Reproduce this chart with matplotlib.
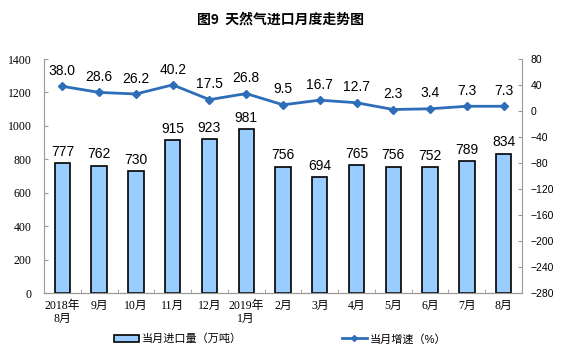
import matplotlib
matplotlib.use("Agg")
import matplotlib.pyplot as plt
from matplotlib.patches import Patch
from matplotlib.lines import Line2D

plt.rcParams['font.family'] = ['Liberation Sans', 'Noto Sans CJK SC']

# datos
meses = ["2018年\n8月", "9月", "10月", "11月", "12月", "2019年\n1月", "2月",
         "3月", "4月", "5月", "6月", "7月", "8月"]
importacion = [777, 762, 730, 915, 923, 981, 756, 694, 765, 756, 752, 789, 834]
crecimiento = [38.0, 28.6, 26.2, 40.2, 17.5, 26.8, 9.5, 16.7, 12.7, 2.3, 3.4, 7.3, 7.3]

azul_barra = '#99CCFF'
azul_linea = '#2E6DB8'
gris = '#999999'

fig = plt.figure(figsize=(5.61, 3.57), dpi=100)
ax = fig.add_axes([44/561, 1 - 293/357, (522-44)/561, (293-59)/357])
ax2 = ax.twinx()

x = list(range(len(meses)))
ax.bar(x, importacion, width=0.42, color=azul_barra, edgecolor='black', linewidth=1.2, zorder=2)
ax.set_xlim(-0.5, len(meses) - 0.5)
ax.set_ylim(0, 1400)
ax.set_yticks(range(0, 1401, 200))

for i, v in enumerate(importacion):
    ax.annotate(str(v), xy=(i, v), xytext=(0, 3), textcoords='offset points',
                ha='center', va='bottom', fontsize=10)

ax2.plot(x, crecimiento, color=azul_linea, linewidth=2, marker='D', markersize=4.5, zorder=3)
ax2.set_ylim(-280, 80)
ax2.set_yticks(range(-280, 81, 40))
for i, v in enumerate(crecimiento):
    ax2.annotate(f"{v:.1f}", xy=(i, v), xytext=(0, 6), textcoords='offset points',
                 ha='center', va='bottom', fontsize=10)

# ejes
for a in (ax, ax2):
    a.spines['top'].set_visible(False)
    for lado in ('left', 'right', 'bottom'):
        a.spines[lado].set_color(gris)
ax.spines['right'].set_visible(False)
ax2.spines['left'].set_visible(False)

serif_cjk = ['Liberation Serif', 'Noto Sans CJK SC']
ax.set_xticks(x)
ax.set_xticklabels(meses, fontsize=8.5, family=serif_cjk, linespacing=1.1)
ax.set_xticks([i + 0.5 for i in x[:-1]], minor=True)
ax.tick_params(axis='x', which='major', length=0, pad=5)
ax.tick_params(axis='x', which='minor', direction='in', length=3, color=gris)
ax.tick_params(axis='y', direction='in', length=3, color=gris, labelsize=8.5, pad=9)
for t in ax.get_yticklabels():
    t.set_family(serif_cjk)
ax2.tick_params(axis='y', direction='in', length=3, color=gris, labelsize=7.5, pad=6)

fig.text(0.5, 1 - 20/357, "图9  天然气进口月度走势图", ha='center', va='center',
         fontsize=10, fontweight='bold', family=['Noto Sans CJK SC'])

handles = [Patch(facecolor=azul_barra, edgecolor='black', linewidth=1.2),
           Line2D([0], [0], color=azul_linea, linewidth=2, marker='D', markersize=3)]
fig.legend(handles, ["当月进口量（万吨）", "当月增速（%）"], loc='center',
           bbox_to_anchor=(0.5, 1 - 339/357), ncol=2, frameon=False, fontsize=8,
           columnspacing=9, handlelength=2.2, handletextpad=0.3)

fig.savefig("out.png", dpi=100)
